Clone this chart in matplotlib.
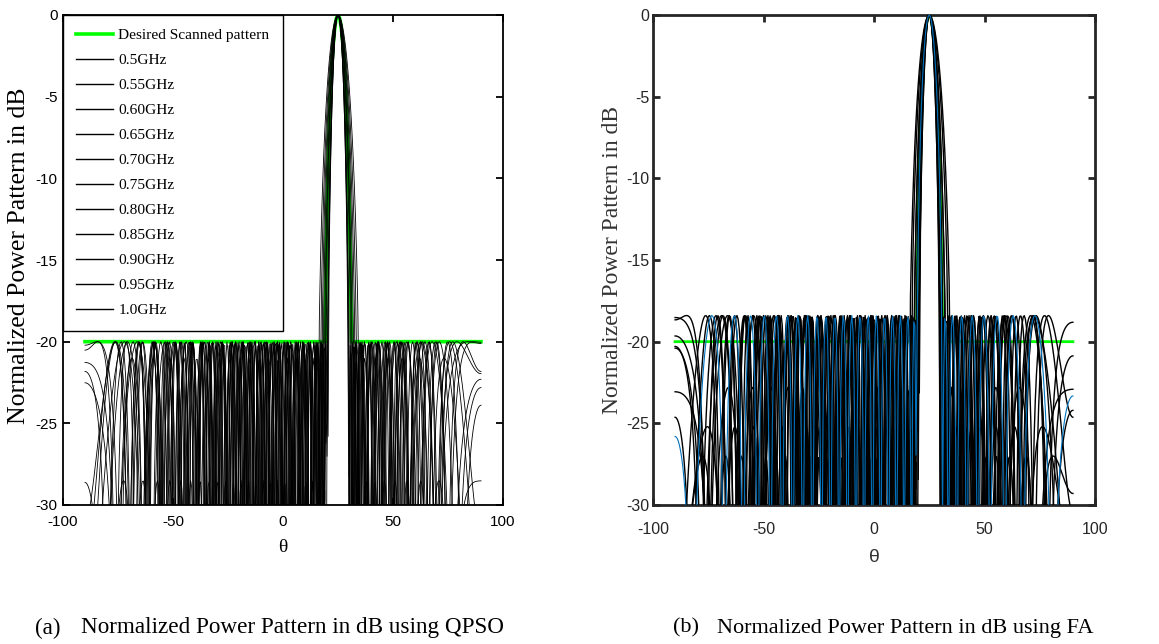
import numpy as np
import matplotlib
matplotlib.use("Agg")
import matplotlib.pyplot as plt

# ---------------- data ----------------
freqs_ghz = [0.5, 0.55, 0.60, 0.65, 0.70, 0.75, 0.80, 0.85, 0.90, 0.95, 1.0]
freq_labels = ["0.5GHz", "0.55GHz", "0.60GHz", "0.65GHz", "0.70GHz", "0.75GHz",
               "0.80GHz", "0.85GHz", "0.90GHz", "0.95GHz", "1.0GHz"]
desired_label = "Desired Scanned pattern"
scan_angle_deg = 25.0          # main-beam direction
beam_order = 27                # sets main-beam width
# side-lobe density of each optimised pattern (lobes per half period)
lobe_orders = [36, 40, 34, 42, 38, 44, 37, 41, 35, 43, 39]
design_freq_ghz = 1.0          # half-wavelength spacing at this frequency
desired_sll_db = -20.0         # desired side-lobe level
desired_ref_freq_ghz = 0.75
# side-lobe level reached at each frequency
sll_qpso_db = [-20.0, -20.0, -20.0, -20.0, -21.0, -20.0, -20.0, -28.5, -20.0, -20.0, -20.0]
sll_fa_db = [-18.4, -18.4, -22.8, -18.4, -25.2, -18.4, -18.4, -27.0, -18.4, -18.4, -18.4]
fa_colors = ["black", "black", "black", "black", "black", "black",
             "#0072BD", "black", "black", "black", "black"]
theta_range = (-90.0, 90.0)
theta_step_deg = 0.5
x_ticks = [-100, -50, 0, 50, 100]
y_ticks = [-30, -25, -20, -15, -10, -5, 0]
x_lim = (-100, 100)
y_lim = (-30, 0)

theta = np.arange(theta_range[0], theta_range[1] + theta_step_deg / 2, theta_step_deg)

R0 = 10 ** (-desired_sll_db / 20.0)
X0 = np.cosh(np.arccosh(R0) / beam_order)


def pattern_db(theta_deg, f_ghz, sll_db, lobe_order):
    """Chebyshev-type scanned array pattern: equiripple side lobes at sll_db."""
    d_wl = 0.5 * f_ghz / design_freq_ghz
    psi = 2 * np.pi * d_wl * (np.sin(np.radians(theta_deg)) - np.sin(np.radians(scan_angle_deg)))
    x = X0 * np.cos(psi / 2)
    ax_ = np.abs(x)
    side = sll_db + 20 * np.log10(np.maximum(
        np.abs(np.cos(lobe_order * np.arccos(np.clip(x, -1, 1)))), 1e-6))
    b = 20 * np.log10(np.cosh(beam_order * np.arccosh(np.maximum(ax_, 1)))) / (20 * np.log10(R0))
    main = sll_db * (1 - b)
    return np.where(ax_ <= 1, side, main)


theta_fine = np.linspace(theta_range[0], theta_range[1], 3601)
desired = np.maximum(pattern_db(theta_fine, desired_ref_freq_ghz, desired_sll_db, 40),
                     desired_sll_db)

W, H = 1159, 644
fig = plt.figure(figsize=(W / 100, H / 100), dpi=100)

serif = ["Liberation Serif", "DejaVu Serif"]
sans = ["Liberation Sans", "DejaVu Sans"]


def fx(px):
    return px / W


def fy(py):
    return 1 - py / H


def style_axes(ax, spine_lw, xpad, ypad, size, color):
    ax.set_xlim(*x_lim)
    ax.set_ylim(*y_lim)
    ax.set_xticks(x_ticks)
    ax.set_yticks(y_ticks)
    ax.set_xticklabels([str(t) for t in x_ticks])
    ax.set_yticklabels([str(t) for t in y_ticks])
    ax.tick_params(direction="in", top=True, right=True, length=5, width=spine_lw,
                   labelsize=size, colors=color)
    ax.tick_params(axis="x", pad=xpad)
    ax.tick_params(axis="y", pad=ypad)
    for lab in ax.get_xticklabels() + ax.get_yticklabels():
        lab.set_family(sans)
    for s in ax.spines.values():
        s.set_linewidth(spine_lw)
        s.set_color(color)


# ---------------- (a) QPSO ----------------
axL = fig.add_axes([fx(63), fy(505), fx(440), (505 - 15) / H])
hd, = axL.plot(theta_fine, desired, color="#00FF00", lw=2.6, label=desired_label, zorder=2)
handles = [hd]
for f, lab, sll, n in zip(freqs_ghz, freq_labels, sll_qpso_db, lobe_orders):
    h, = axL.plot(theta, pattern_db(theta, f, sll, n), color="black", lw=0.6,
                  label=lab, zorder=3)
    handles.append(h)
style_axes(axL, 1.3, 7, 4, 11, "black")
leg = axL.legend(handles=handles, loc="upper left", bbox_to_anchor=(0, 1),
                 borderaxespad=0, prop={"family": serif, "size": 11.1},
                 labelspacing=0.73, handlelength=2.4, handletextpad=0.35,
                 borderpad=0.85, fancybox=False, framealpha=1, edgecolor="black")
leg.get_frame().set_linewidth(1.0)
for lh in leg.legend_handles[1:]:
    lh.set_linewidth(1.0)

fig.text(fx(19), fy(256), "Normalized Power Pattern in dB", rotation=90,
         ha="center", va="center", family=serif, fontsize=18.5)
fig.text(fx(283), fy(548), "θ", ha="center", va="center", family=serif, fontsize=14)

# ---------------- (b) FA ----------------
axR = fig.add_axes([fx(653), fy(505), fx(442), (505 - 15) / H])
axR.plot(theta_fine, desired, color="#00FF00", lw=2.0, zorder=2)
for f, sll, c, n in zip(freqs_ghz, sll_fa_db, fa_colors, lobe_orders[::-1]):
    lw = 1.0 if c == "black" else 0.8
    z = 3 if c == "black" else 4
    axR.plot(theta, pattern_db(theta, f, sll, n), color=c, lw=lw, zorder=z)
style_axes(axR, 2.0, 12, 2.5, 11.5, "#262626")

fig.text(fx(613), fy(260), "Normalized Power Pattern in dB", rotation=90,
         ha="center", va="center", family=serif, fontsize=17, color="#333333")
fig.text(fx(874), fy(558), "θ", ha="center", va="center", family=sans, fontsize=14,
         color="#333333")

# ---------------- captions ----------------
fig.text(fx(35), fy(628), "(a)", ha="left", va="center", family=serif, fontsize=16.7)
fig.text(fx(81), fy(628), "Normalized Power Pattern in dB using QPSO", ha="left",
         va="center", family=serif, fontsize=16.7)
fig.text(fx(673), fy(628), "(b)", ha="left", va="center", family=serif, fontsize=16.0)
fig.text(fx(717), fy(628), "Normalized Power Pattern in dB using FA", ha="left",
         va="center", family=serif, fontsize=16.0)

fig.savefig("out.png", dpi=100, facecolor="white")
